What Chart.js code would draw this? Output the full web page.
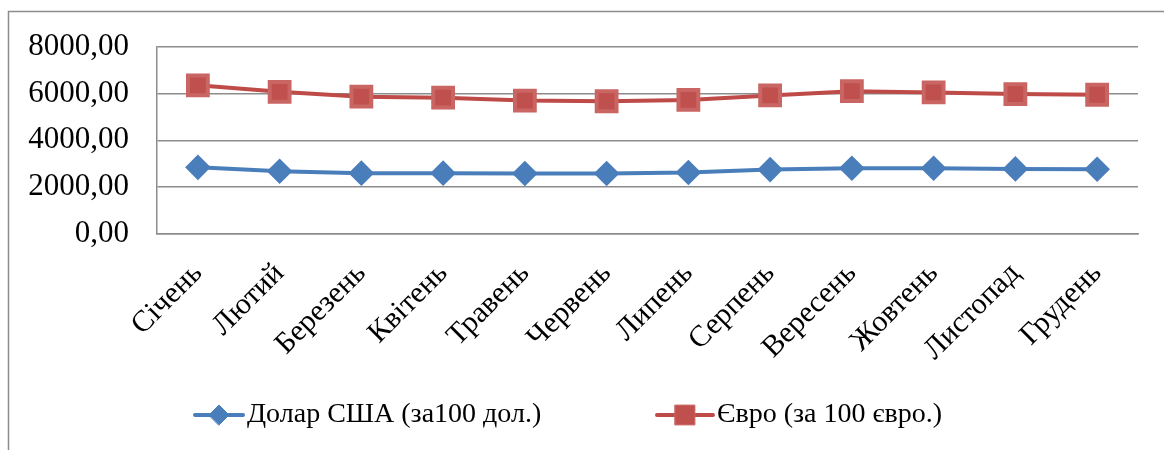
<!DOCTYPE html>
<html>
<head>
<meta charset="utf-8">
<script src="https://cdn.jsdelivr.net/npm/chart.js@4"></script>
<style>
  html, body { margin: 0; padding: 0; background: #fff; }
  #wrap { width: 1164px; height: 450px; }
</style>
</head>
<body>
<div id="wrap"><canvas id="myChart" width="1164" height="450"></canvas></div>
<script>
const months = ['Січень', 'Лютий', 'Березень', 'Квітень', 'Травень', 'Червень',
  'Липень', 'Серпень', 'Вересень', 'Жовтень', 'Листопад', 'Грудень'];
const usdValues = [2846, 2680, 2597, 2597, 2583, 2583, 2625, 2750, 2806, 2806, 2778, 2764];
const eurValues = [6346, 6069, 5861, 5819, 5694, 5667, 5722, 5917, 6097, 6042, 5972, 5944];
const usdLabel = 'Долар США (за100 дол.)';
const eurLabel = 'Євро (за 100 євро.)';
const yMax = 8000;
const yStep = 2000;

const serif = "'Liberation Serif', 'Times New Roman', serif";
const blue = '#4A7EBB';
const red = '#BE4B48';
const gray = '#8c8c8c';

// outer frame of the chart object (cut off at right and bottom)
const framePlugin = {
  id: 'frame',
  beforeDraw(chart) {
    const c = chart.ctx;
    c.save();
    c.strokeStyle = gray;
    c.lineWidth = 1.5;
    c.beginPath();
    c.moveTo(8.5, 450);
    c.lineTo(8.5, 11.5);
    c.lineTo(1164, 11.5);
    c.stroke();
    c.restore();
  }
};

// legend with a line segment through the marker, like the office chart
const lineLegend = {
  id: 'lineLegend',
  afterDraw(chart) {
    const c = chart.ctx;
    const y = 415;
    const items = [{ x: 195, w: 48 }, { x: 657, w: 56 }];
    c.save();
    chart.data.datasets.forEach((ds, i) => {
      const it = items[i];
      c.strokeStyle = ds.borderColor;
      c.lineWidth = 4;
      c.lineCap = 'round';
      c.beginPath();
      c.moveTo(it.x, y);
      c.lineTo(it.x + it.w, y);
      c.stroke();
      c.fillStyle = ds.pointBackgroundColor;
      c.strokeStyle = ds.pointBorderColor;
      c.lineWidth = 1;
      Chart.helpers.drawPoint(c, {
        pointStyle: ds.pointStyle, radius: ds.pointRadius, rotation: 0, borderWidth: 1
      }, it.x + it.w / 2, y);
      c.fillStyle = '#000';
      c.font = '28px ' + serif;
      c.textBaseline = 'middle';
      c.fillText(ds.label, it.x + it.w + 4, y);
    });
    c.restore();
  }
};

new Chart(document.getElementById('myChart'), {
  type: 'line',
  data: {
    labels: months,
    datasets: [{
      label: usdLabel,
      data: usdValues,
      borderColor: blue,
      borderWidth: 4,
      pointStyle: 'rectRot',
      pointRadius: 10,
      pointHoverRadius: 10,
      pointBackgroundColor: blue,
      pointBorderColor: blue,
      tension: 0
    }, {
      label: eurLabel,
      data: eurValues,
      borderColor: red,
      borderWidth: 4,
      pointStyle: 'rect',
      pointRadius: 14,
      pointHoverRadius: 14,
      pointBackgroundColor: '#C0504D',
      pointBorderColor: '#c96562',
      tension: 0
    }]
  },
  options: {
    responsive: false,
    animation: false,
    layout: { padding: { top: 42, right: 26, left: 0, bottom: 0 } },
    scales: {
      x: {
        offset: true,
        grid: { display: false },
        border: { display: true, color: gray, width: 1.5 },
        ticks: {
          color: '#000',
          font: { family: serif, size: 30 },
          minRotation: 45,
          maxRotation: 45,
          padding: 14
        },
        afterFit(s) { s.height = 216; }
      },
      y: {
        min: 0,
        max: yMax,
        grid: { color: gray, lineWidth: 1.5, drawTicks: false },
        border: { display: true, color: gray, width: 1.5 },
        ticks: {
          stepSize: yStep,
          color: '#000',
          padding: 28,
          font: { family: serif, size: 31 },
          callback: v => v.toFixed(2).replace('.', ',')
        },
        afterFit(s) { s.width = 157; }
      }
    },
    plugins: {
      legend: { display: false },
      tooltip: { enabled: false }
    }
  },
  plugins: [framePlugin, lineLegend]
});
</script>
</body>
</html>
